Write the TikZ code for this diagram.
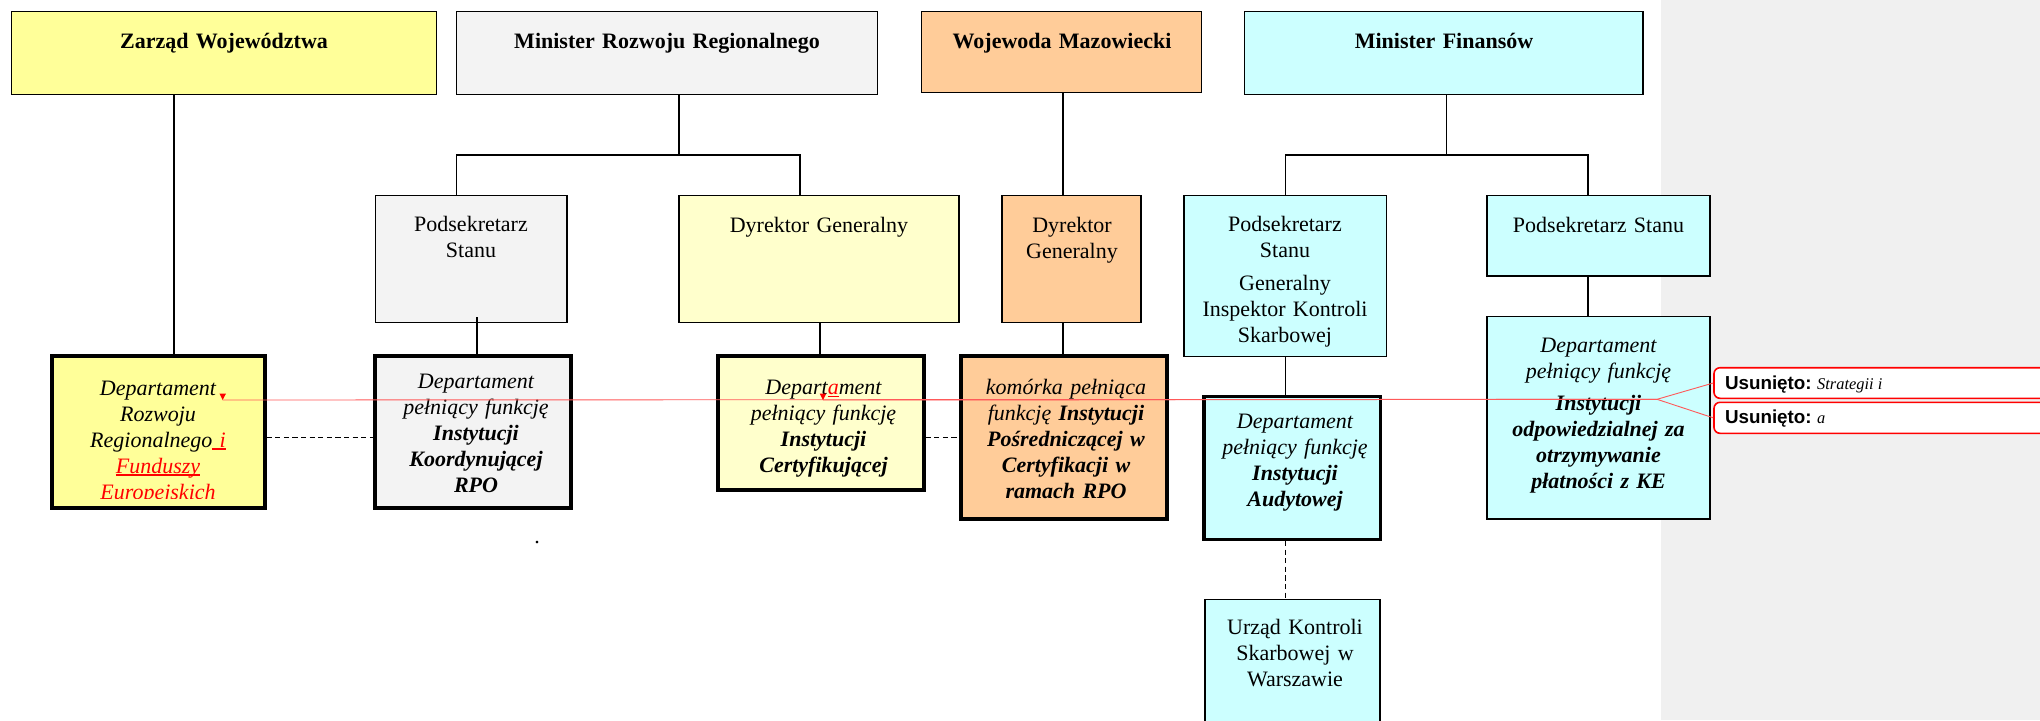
\documentclass[tikz,border=0pt]{standalone}
\usepackage{fontspec}
\setmainfont{Liberation Serif}
\newfontfamily\usfont{Liberation Sans}
\usetikzlibrary{fit}
\definecolor{cYel}{HTML}{FFFF99}
\definecolor{cGry}{HTML}{F3F3F3}
\definecolor{cOrg}{HTML}{FFCC99}
\definecolor{cCyn}{HTML}{CCFFFF}
\definecolor{cLYel}{HTML}{FFFFCC}
\definecolor{cBg}{HTML}{F0F0F0}
\newcommand{\redul}[1]{\leavevmode{\color{red}\setbox0\hbox{#1}\rlap{\rule[-1.4pt]{\wd0}{0.7pt}}\box0}}
\begin{document}
\begin{tikzpicture}[x=0.5pt,y=-0.5pt,
  box/.style={draw=black,line width=0.75pt,inner sep=0pt},
  heavybox/.style={draw=black,line width=1.6pt,inner sep=0pt},
  txt/.style={anchor=base,text width=170pt,align=center,inner sep=0pt,font=\fontsize{11}{13}\selectfont},
  wire/.style={draw=black,line width=0.65pt},
  dwire/.style={draw=black,line width=0.65pt,dash pattern=on 2.6pt off 1.7pt},
  trk/.style={draw=red!65,line width=0.45pt},
  delbox/.style={draw=red,line width=0.8pt,rounded corners=3pt,fill=white,inner sep=0pt},
  deltxt/.style={anchor=base west,inner sep=0pt,font=\fontsize{8.2}{10}\selectfont}]
\useasboundingbox (0,0) rectangle (2040,720);
\clip (0,0) rectangle (2040,720);
\fill[white] (0,0) rectangle (2040,720);
\fill[cBg] (1660.5,0) rectangle (2040,720);

% top row
\node[box,fill=cYel,fit={(11.7,11.7) (436.7,94.3)}] (zarzad) {};
\node[box,fill=cGry,fit={(456.6,11.7) (877.3,94.3)}] (mrr) {};
\node[box,fill=cOrg,fit={(921.5,11.7) (1201.7,92.3)}] (woj) {};
\node[box,fill=cCyn,fit={(1244.6,11.7) (1643,94.3)}] (mf) {};
% middle row
\node[box,fill=cGry,fit={(375.5,195.7) (566.8,322.7)}] (podsekA) {};
\node[box,fill=cLYel,fit={(679,195.7) (959,322.7)}] (dyrA) {};
\node[box,fill=cOrg,fit={(1002,195.7) (1141,322.7)}] (dyrB) {};
\node[box,fill=cCyn,fit={(1184,195.7) (1386.7,356.7)}] (giks) {};
\node[box,fill=cCyn,fit={(1487,195.7) (1710,276)}] (podsekB) {};
% bottom row
\node[heavybox,fill=cYel,fit={(52,356) (265,508)}] (deptroz) {};
\node[heavybox,fill=cGry,fit={(375,356) (571,508)}] (deptik) {};
\node[heavybox,fill=cLYel,fit={(718,356) (924,490)}] (cert) {};
\node[heavybox,fill=cOrg,fit={(961,356) (1167,519)}] (ip) {};
\node[heavybox,fill=cCyn,fit={(1204,396.7) (1380.7,539.3)}] (aud) {};
\node[box,fill=cCyn,fit={(1205,599.3) (1380,740)}] (urzad) {};
\node[box,fill=cCyn,fit={(1487,316.7) (1710,519)}] (iop) {};

% connector columns
\coordinate (xz) at (174,0);
\coordinate (xm) at (679,155);
\coordinate (xa) at (456.6,0);
\coordinate (xb) at (800,0);
\coordinate (xc) at (477,0);
\coordinate (xd) at (820,0);
\coordinate (xw) at (1063,0);
\coordinate (xf) at (1446.7,155);
\coordinate (xg) at (1285.5,0);
\coordinate (xh) at (1588,0);
\coordinate (yd) at (0,437.7);

\draw[wire] (zarzad.south -| xz) -- (deptroz.north -| xz);
\draw[wire] (mrr.south -| xm) -- (xm);
\draw[wire] (podsekA.north -| xa) -- (xa |- xm) -- (xb |- xm) -- (dyrA.north -| xb);
\draw[wire] (xc |- 0,317) -- (deptik.north -| xc);
\draw[wire] (dyrA.south -| xd) -- (cert.north -| xd);
\draw[wire] (woj.south -| xw) -- (dyrB.north -| xw);
\draw[wire] (dyrB.south -| xw) -- (ip.north -| xw);
\draw[wire] (mf.south -| xf) -- (xf);
\draw[wire] (giks.north -| xg) -- (xg |- xf) -- (xh |- xf) -- (podsekB.north -| xh);
\draw[wire] (giks.south -| xg) -- (aud.north -| xg);
\draw[wire] (podsekB.south -| xh) -- (iop.north -| xh);
\draw[dwire] (aud.south -| xg) -- (urzad.north -| xg);
\draw[dwire] (deptroz.east |- yd) -- (deptik.west |- yd);
\draw[dwire] (cert.east |- yd) -- (ip.west |- yd);

% texts top
\node[txt,font=\fontsize{11}{13}\selectfont\bfseries] (t-zarzad) at (224,48.3) {Zarząd Województwa};
\node[txt,font=\fontsize{11}{13}\selectfont\bfseries] (t-mrr) at (667,48.3) {Minister Rozwoju Regionalnego};
\node[txt,font=\fontsize{11}{13}\selectfont\bfseries] (t-woj) at (1062,48.3) {Wojewoda Mazowiecki};
\node[txt,font=\fontsize{11}{13}\selectfont\bfseries] (t-mf) at (1444,48.3) {Minister Finansów};
% texts middle
\node[txt] (t-podsekA) at (471,231.7) {Podsekretarz\\Stanu};
\node[txt] (t-dyrA) at (819,232) {Dyrektor Generalny};
\node[txt] (t-dyrB) at (1072,232) {Dyrektor\\Generalny};
\node[txt] (t-giks) at (1285,231.7) {Podsekretarz\\Stanu\\[3.3pt]Generalny\\Inspektor Kontroli\\Skarbowej};
\node[txt] (t-podsekB) at (1598.5,232) {Podsekretarz Stanu};
% texts bottom
\begin{scope}
\clip (54,358) rectangle (263,498.5);
\node[txt,font=\fontsize{11}{13}\selectfont\itshape] (t-deptroz) at (158,395) {Departament\\Rozwoju\\Regionalnego\redul{ i}\\\redul{Funduszy}\\\redul{Europejskich}};
\end{scope}
\node[txt,font=\fontsize{11}{13}\selectfont\itshape] (t-deptik) at (476,388) {Departament\\pełniący funkcję\\\textbf{Instytucji\\Koordynującej\\RPO}};
\node[txt,font=\fontsize{11}{13}\selectfont\itshape] (t-cert) at (823.5,394.3) {Depart\redul{a}ment\\pełniący funkcję\\\textbf{Instytucji\\Certyfikującej}};
\node[txt,font=\fontsize{11}{13}\selectfont\itshape] (t-ip) at (1066,394.3) {komórka pełniąca\\funkcję \textbf{Instytucji\\Pośredniczącej w\\Certyfikacji w\\ramach RPO}};
\node[txt,font=\fontsize{11}{13}\selectfont\itshape] (t-aud) at (1295,428.3) {Departament\\pełniący funkcję\\\textbf{Instytucji\\Audytowej}};
\node[txt] (t-urzad) at (1295,634.3) {Urząd Kontroli\\Skarbowej w\\Warszawie};
\node[txt,font=\fontsize{11}{13}\selectfont\itshape] (t-iop) at (1598.5,352.7) {Departament\\pełniący funkcję\\[3pt]\textbf{Instytucji\\odpowiedzialnej za\\otrzymywanie\\płatności z KE}};
\node[txt] (t-dot) at (537,543) {.};

% tracked changes
\node[delbox,fit={(1714,367.7) (2060,398.3)}] (u1) {};
\node[delbox,fit={(1714,402.3) (2060,433.3)}] (u2) {};
\node[deltxt] (t-u1) at (1724.6,389) {{\usfont\fontsize{9.4}{10}\selectfont\bfseries Usunięto:} \textit{Strategii i}};
\node[deltxt] (t-u2) at (1724.6,423.3) {{\usfont\fontsize{9.4}{10}\selectfont\bfseries Usunięto:} \textit{a}};
\coordinate (m1) at (222.7,400);
\coordinate (m2) at (823,400);
\coordinate (split) at (1657,399.3);
\draw[trk] (m1) -- (split) -- (u1.west);
\draw[trk] (m2) -- (split) -- (u2.west);
\fill[red] (m1) -- ++(-3.3,-6.5) -- ++(6.6,0) -- cycle;
\fill[red] (m2) -- ++(-3.3,-6.5) -- ++(6.6,0) -- cycle;
\end{tikzpicture}
\end{document}
